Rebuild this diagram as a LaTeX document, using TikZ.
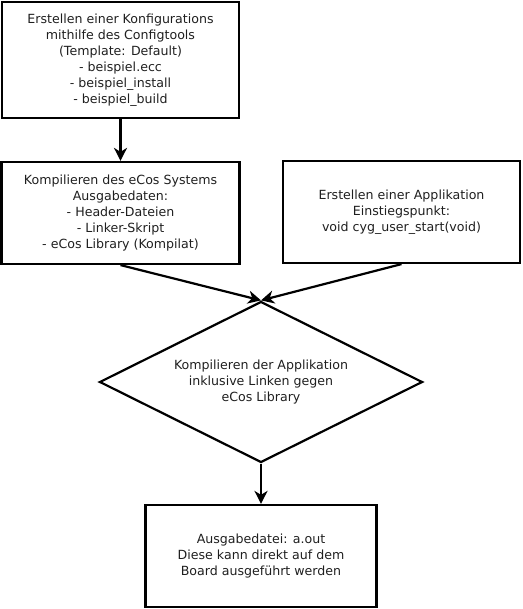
\documentclass[tikz,border=0pt]{standalone}
\usepackage{fontspec}
\setmainfont{DejaVu Sans}
\usetikzlibrary{shapes.geometric,arrows.meta}
\begin{document}
\begin{tikzpicture}[x=1pt,y=-1pt,
  box/.style={draw, line width=2.2pt, rectangle, align=center, inner sep=0pt,
    font=\fontsize{12.6}{16}\selectfont, text=black!88},
  dia/.style={draw, line width=2.2pt, diamond, aspect=2, align=center, inner sep=0pt,
    minimum width=323pt, minimum height=161pt,
    font=\fontsize{12.6}{16}\selectfont, text=black!88},
  arr/.style={line width=2.2pt, -{Stealth[length=13pt,width=13pt,inset=4pt]}}]
\useasboundingbox (0,0) rectangle (522,609);
\node[box, minimum width=237pt, minimum height=116pt] (b1) at (120.5,60)
  {Erstellen einer Konfigurations\\mithilfe des Configtools\\(Template: Default)\\- beispiel.ecc\\- beispiel\_install\\- beispiel\_build};
\node[box, minimum width=238pt, minimum height=102pt] (b2) at (120.5,213)
  {Kompilieren des eCos Systems\\Ausgabedaten:\\- Header-Dateien\\- Linker-Skript\\- eCos Library (Kompilat)};
\node[box, minimum width=237pt, minimum height=102pt] (b3) at (401.5,212)
  {Erstellen einer Applikation\\Einstiegspunkt:\\void cyg\_user\_start(void)};
\node[dia] (d) at (261,382)
  {Kompilieren der Applikation\\inklusive Linken gegen\\eCos Library};
\node[box, minimum width=231pt, minimum height=102pt] (b4) at (261,556)
  {Ausgabedatei: a.out\\Diese kann direkt auf dem\\Board ausgeführt werden};
\draw[arr] (b1.south) -- (b2.north);
\draw[arr] (b2.south) -- (d.north);
\draw[arr] (b3.south) -- (d.north);
\draw[arr] (d.south) -- (b4.north);
\end{tikzpicture}
\end{document}
